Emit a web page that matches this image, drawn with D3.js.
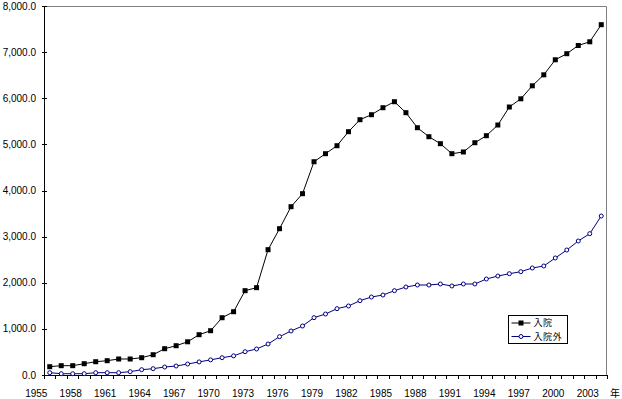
<!DOCTYPE html>
<html>
<head>
<meta charset="utf-8">
<script src="https://cdn.jsdelivr.net/npm/d3@7"></script>
<style>
    body { margin: 0; background: #fff; }
    svg { display: block; }
    text { font-family: "MS PGothic", "Liberation Sans", Arial, "Noto Sans CJK JP", sans-serif; font-size: 10px; fill: #000; }
    .cjk { font-family: "Noto Sans CJK JP", sans-serif; }
    .legend text { font-size: 9px; letter-spacing: 0.6px; }
</style>
</head>
<body>
<svg id="chart" width="622" height="399"></svg>
<script>
// years on the x axis (one point per year)
var years = d3.range(1956, 2005)

// 入院
var inpatient = [180, 202, 202, 245, 288, 310, 347, 347, 375, 440,
    570, 635, 720, 874, 960, 1242, 1372, 1828, 1893, 2717,
    3172, 3649, 3931, 4624, 4798, 4971, 5275, 5535, 5643, 5795,
    5925, 5687, 5361, 5166, 5015, 4798, 4835, 5036, 5188, 5420,
    5810, 5988, 6270, 6508, 6834, 6966, 7144, 7224, 7595]

// 入院外
var outpatient = [50, 28, 28, 28, 50, 50, 50, 72, 115, 137,
    173, 195, 238, 284, 328, 375, 415, 505, 564, 672,
    831, 954, 1062, 1243, 1322, 1438, 1496, 1611, 1691, 1734,
    1828, 1908, 1951, 1951, 1973, 1930, 1973, 1973, 2081, 2146,
    2196, 2240, 2320, 2363, 2537, 2710, 2905, 3064, 3447]

var xTickYears = d3.range(1955, 2004, 3)
var yTicks = d3.range(0, 8001, 1000)
var seriesNames = ['入院', '入院外']

var margin = { top: 6, left: 44, right: 15, bottom: 24 },
    width = 622,
    height = 399

var svg = d3.select('#chart')

var x = d3.scaleLinear()
    .domain([1955.5, 2004.5])
    .range([margin.left, width - margin.right])

var y = d3.scaleLinear()
    .domain([0, 8000])
    .range([height - margin.bottom, margin.top])

var fmt = d3.format(',.1f')

// plot frame: grey top / right
svg.append('path')
    .attr('d', 'M' + x.range()[0] + ',' + (y.range()[1] + 0.5) + 'H' + (x.range()[1] - 0.5) + 'V' + y.range()[0])
    .attr('fill', 'none')
    .attr('stroke', '#808080')
    .attr('stroke-width', 1)

// y axis
var yAxis = svg.append('g').attr('class', 'y-axis')
yAxis.append('line')
    .attr('x1', x.range()[0] + 0.5).attr('x2', x.range()[0] + 0.5)
    .attr('y1', y.range()[1]).attr('y2', y.range()[0])
    .attr('stroke', '#000')
yAxis.selectAll('.ytick')
    .data(yTicks)
    .enter()
    .append('line')
    .attr('x1', x.range()[0] - 2).attr('x2', x.range()[0] + 3)
    .attr('y1', d => Math.round(y(d)) + 0.5).attr('y2', d => Math.round(y(d)) + 0.5)
    .attr('stroke', '#000')
yAxis.selectAll('.ylabel')
    .data(yTicks)
    .enter()
    .append('text')
    .attr('x', 36)
    .attr('y', d => y(d))
    .attr('dy', '0.35em')
    .attr('text-anchor', 'end')
    .text(d => fmt(d))

// x axis
var xAxis = svg.append('g').attr('class', 'x-axis')
xAxis.append('line')
    .attr('x1', x.range()[0]).attr('x2', x.range()[1])
    .attr('y1', y.range()[0] + 0.5).attr('y2', y.range()[0] + 0.5)
    .attr('stroke', '#000')
xAxis.selectAll('.xtick')
    .data(d3.range(1955.5, 2005, 1))
    .enter()
    .append('line')
    .attr('x1', d => Math.round(x(d)) + 0.5).attr('x2', d => Math.round(x(d)) + 0.5)
    .attr('y1', y.range()[0]).attr('y2', y.range()[0] + 4)
    .attr('stroke', '#000')
xAxis.selectAll('.xlabel')
    .data(xTickYears)
    .enter()
    .append('text')
    .attr('x', d => x(d) - 2)
    .attr('y', 393)
    .attr('dy', '0.35em')
    .attr('text-anchor', 'middle')
    .text(d => d)
xAxis.append('text')
    .attr('class', 'cjk')
    .attr('x', 615)
    .attr('y', 393)
    .attr('dy', '0.35em')
    .attr('text-anchor', 'middle')
    .text('年')

var line = d3.line()
    .x((d, i) => x(years[i]))
    .y(d => y(d))

// 入院外 (navy, open circles)
svg.append('path')
    .datum(outpatient)
    .attr('fill', 'none')
    .attr('stroke', '#000080')
    .attr('stroke-width', 1)
    .attr('d', line)
svg.selectAll('.dot-out')
    .data(outpatient)
    .enter()
    .append('circle')
    .attr('cx', (d, i) => x(years[i]))
    .attr('cy', d => y(d))
    .attr('r', 2)
    .attr('fill', '#fff')
    .attr('stroke', '#000080')

// 入院 (black, filled squares)
svg.append('path')
    .datum(inpatient)
    .attr('fill', 'none')
    .attr('stroke', '#000')
    .attr('stroke-width', 1)
    .attr('d', line)
svg.selectAll('.dot-in')
    .data(inpatient)
    .enter()
    .append('rect')
    .attr('x', (d, i) => x(years[i]) - 2.5)
    .attr('y', d => y(d) - 2.5)
    .attr('width', 5)
    .attr('height', 5)
    .attr('fill', '#000')

// legend
var legend = svg.append('g')
    .attr('class', 'legend')
    .attr('transform', 'translate(508.5,315.5)')
legend.append('rect')
    .attr('width', 59)
    .attr('height', 28)
    .attr('fill', '#fff')
    .attr('stroke', '#000')

var rows = legend.selectAll('.row')
    .data(seriesNames)
    .enter()
    .append('g')
    .attr('transform', (d, i) => 'translate(0,' + (7.5 + i * 13.5) + ')')
rows.append('line')
    .attr('x1', 3).attr('x2', 22)
    .attr('y1', 0).attr('y2', 0)
    .attr('stroke', (d, i) => i === 0 ? '#000' : '#000080')
rows.filter((d, i) => i === 0)
    .append('rect')
    .attr('x', 10).attr('y', -2.5)
    .attr('width', 5).attr('height', 5)
    .attr('fill', '#000')
rows.filter((d, i) => i === 1)
    .append('circle')
    .attr('cx', 12.5).attr('cy', 0)
    .attr('r', 2)
    .attr('fill', '#fff')
    .attr('stroke', '#000080')
rows.append('text')
    .attr('class', 'cjk')
    .attr('x', 25)
    .attr('y', 0)
    .attr('dy', '0.36em')
    .text(d => d)
</script>
</body>
</html>
